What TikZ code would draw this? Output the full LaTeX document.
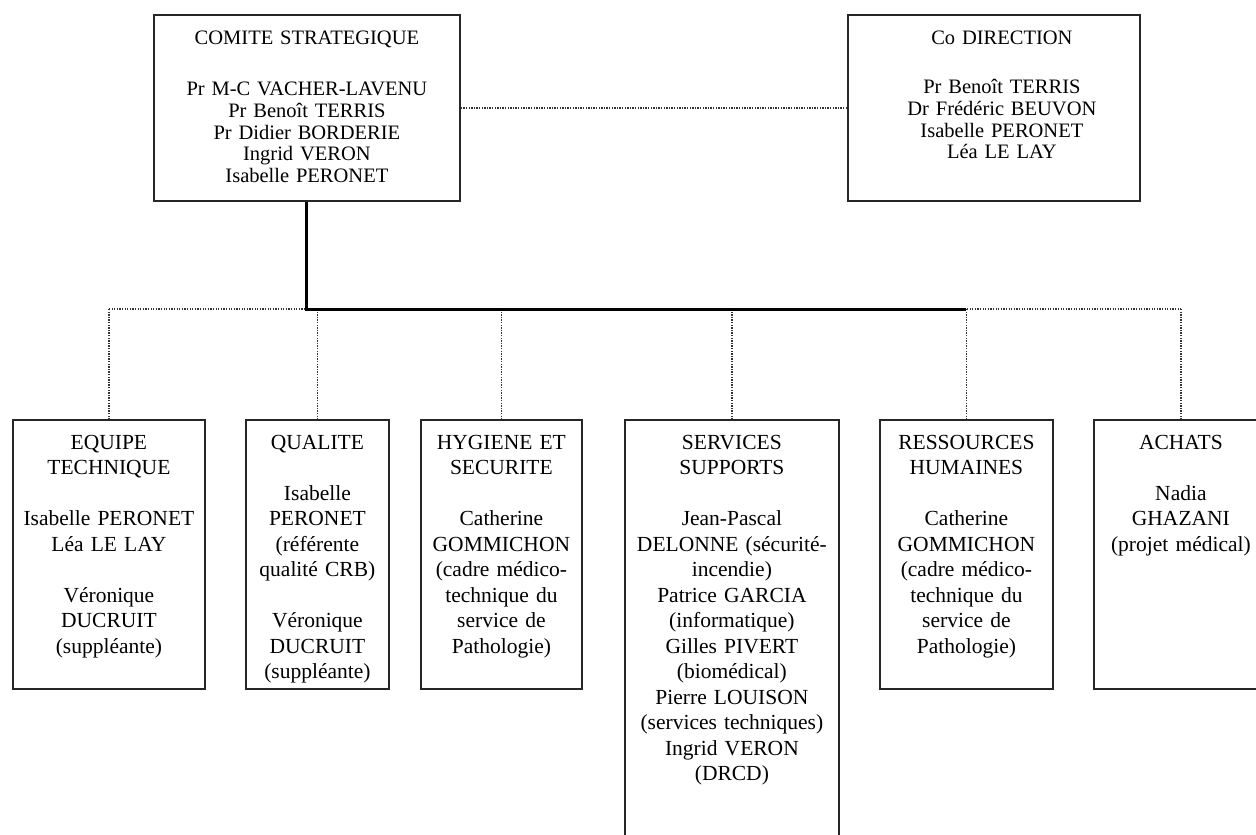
\documentclass[tikz,border=0pt]{standalone}
\usepackage{fontspec}
\setmainfont{Liberation Serif}
\begin{document}
\begin{tikzpicture}[x=1pt,y=-1pt,
  box/.style={draw=black!85, line width=1.8pt, inner sep=0pt, anchor=north west, fill=white},
  txtb/.style={anchor=north, inner sep=0pt, align=center, text=black,
    font=\fontsize{21.5}{25.5}\selectfont},
  txtt/.style={anchor=north, inner sep=0pt, align=center, text=black,
    font=\fontsize{20.5}{21.6}\selectfont},
  dotline/.style={draw=black!80, line width=1.6pt, dash pattern=on 1.3pt off 1.3pt},
  thickline/.style={draw=black, line width=3pt}]
\clip (0,0) rectangle (1256,835);
\fill[white] (0,0) rectangle (1256,835);

% top boxes
\node[box, minimum width=306pt, minimum height=186pt] (cs) at (153,14) {};
\node[box, minimum width=292pt, minimum height=186pt] (cd) at (847,14) {};

% bottom boxes
\node[box, minimum width=192pt, minimum height=269pt] (eq) at (12,419) {};
\node[box, minimum width=143pt, minimum height=269pt] (qu) at (245,419) {};
\node[box, minimum width=161pt, minimum height=269pt] (hy) at (420,419) {};
\node[box, minimum width=214pt, minimum height=480pt] (ss) at (624,419) {};
\node[box, minimum width=173pt, minimum height=269pt] (rh) at (879,419) {};
\node[box, minimum width=174pt, minimum height=269pt] (ac) at (1093,419) {};

% texts
\node[txtt, text width=300pt] (cs-t) at ([yshift=-15pt]cs.north)
  {\strut COMITE STRATEGIQUE\\[30pt]
   Pr M-C VACHER-LAVENU\\ Pr Benoît TERRIS\\ Pr Didier BORDERIE\\ Ingrid VERON\\ Isabelle PERONET};
\node[txtt, text width=300pt] (cd-t) at ([yshift=-15pt,xshift=8pt]cd.north)
  {\strut Co DIRECTION\\[28pt]
   Pr Benoît TERRIS\\ Dr Frédéric BEUVON\\ Isabelle PERONET\\ Léa LE LAY};

\node[txtb, text width=188pt] (eq-t) at ([yshift=-12pt]eq.north)
  {\strut EQUIPE\\ TECHNIQUE\\[25.5pt] Isabelle PERONET\\ Léa LE LAY\\[25.5pt]
   Véronique\\ DUCRUIT\\ (suppléante)};
\node[txtb, text width=140pt] (qu-t) at ([yshift=-12pt]qu.north)
  {\strut QUALITE\\[25.5pt] Isabelle\\ PERONET\\ (référente\\ qualité CRB)\\[25.5pt]
   Véronique\\ DUCRUIT\\ (suppléante)};
\node[txtb, text width=158pt] (hy-t) at ([yshift=-12pt]hy.north)
  {\strut HYGIENE ET\\ SECURITE\\[25.5pt] Catherine\\ GOMMICHON\\ (cadre médico-\\
   technique du\\ service de\\ Pathologie)};
\node[txtb, text width=210pt] (ss-t) at ([yshift=-12pt]ss.north)
  {\strut SERVICES\\ SUPPORTS\\[25.5pt] Jean-Pascal\\ DELONNE (sécurité-\\ incendie)\\
   Patrice GARCIA\\ (informatique)\\ Gilles PIVERT\\ (biomédical)\\
   Pierre LOUISON\\ (services techniques)\\ Ingrid VERON\\ (DRCD)};
\node[txtb, text width=170pt] (rh-t) at ([yshift=-12pt]rh.north)
  {\strut RESSOURCES\\ HUMAINES\\[25.5pt] Catherine\\ GOMMICHON\\ (cadre médico-\\
   technique du\\ service de\\ Pathologie)};
\node[txtb, text width=170pt] (ac-t) at ([yshift=-12pt]ac.north)
  {\strut ACHATS\\[25.5pt] Nadia\\ GHAZANI\\ (projet médical)};

% connectors
\coordinate (j) at (cs.south |- 0,309);
\draw[dotline] (cs.east) -- (cd.west);
\draw[dotline] (j -| eq.north) -- (j -| ac.north);
\foreach \b in {eq,qu,hy,ss,rh,ac}
  \draw[dotline] (j -| \b.north) -- (\b.north);
\draw[thickline] (cs.south) -- (j) -- (j -| rh.north);
\end{tikzpicture}
\end{document}
